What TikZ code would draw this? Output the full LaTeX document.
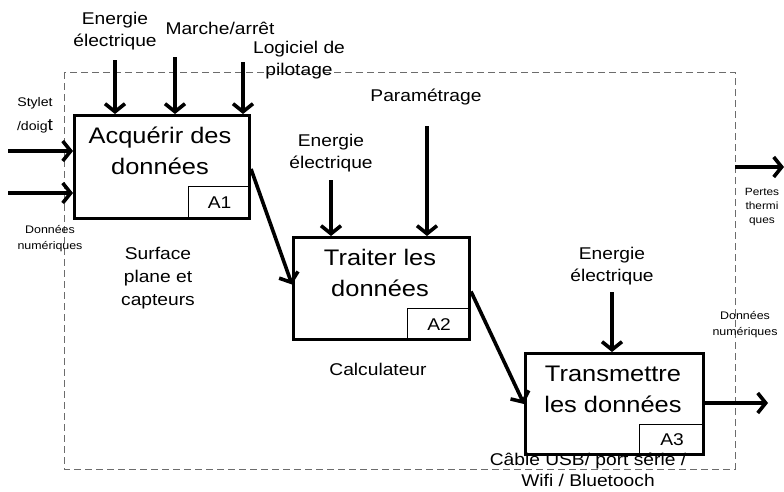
\documentclass[tikz,border=0pt]{standalone}
\usepackage{fontspec}
\setmainfont[FakeStretch=1.13]{Liberation Sans}
\usetikzlibrary{arrows.meta,calc}
\begin{document}
\begin{tikzpicture}[x=1pt,y=-1pt,
  box/.style={draw,line width=3pt,inner sep=0pt,anchor=north west},
  sub/.style={draw,line width=1pt,inner sep=0pt,anchor=south east,font=\fontsize{17}{20}\selectfont},
  flow/.style={line width=3.6pt,-{Straight Barb[length=8pt,width=20pt,line width=3.6pt]}},
  main/.style={align=center,inner sep=0pt,font=\fontsize{22.5}{31}\selectfont},
  lab/.style={align=center,inner sep=0pt,font=\fontsize{17}{22}\selectfont},
  tiny/.style={align=center,inner sep=0pt,font=\fontsize{11}{16}\selectfont}]
\useasboundingbox (0,0) rectangle (784,491);
% system boundary
\draw[gray!85!black,line width=1pt,dash pattern=on 7pt off 4pt] (64,72) rectangle (735,469);
% boxes
\node[box,minimum width=175pt,minimum height=103pt] (a1) at (73,114) {};
\node[box,minimum width=176pt,minimum height=102pt] (a2) at (292,236) {};
\node[box,minimum width=178pt,minimum height=101pt] (a3) at (524,352) {};
\node[sub,minimum width=62pt,minimum height=33pt] (s1) at (a1.south east) {A1};
\node[sub,minimum width=63pt,minimum height=32pt] (s2) at (a2.south east) {A2};
\node[sub,minimum width=65pt,minimum height=31pt] (s3) at (a3.south east) {A3};
\node[main] (t1) at (160,151) {Acquérir des\\données};
\node[main] (t2) at (380,273) {Traiter les\\données};
\node[main] (t3) at (613,389) {Transmettre\\les données};
% labels
\node[lab] (e1) at (115,31) {Energie\\électrique};
\node[lab] (ma) at (220,28) {Marche/arrêt};
\node[lab] (lo) at (299,60) {Logiciel de\\pilotage};
\node[align=center,inner sep=0pt,font=\fontsize{12.5}{24}\selectfont] (sd) at (35,115) {Stylet\\/doig{\fontsize{17}{20}\selectfont t}};
\node[tiny] (dn1) at (50,239) {Données\\numériques};
\node[lab,font=\fontsize{17}{23}\selectfont] (sp) at (158,278) {Surface\\plane et\\capteurs};
\node[lab] (pa) at (426,97) {Paramétrage};
\node[lab] (e2) at (331,153) {Energie\\électrique};
\node[lab] (ca) at (378,369) {Calculateur};
\node[lab] (e3) at (612,266) {Energie\\électrique};
\node[align=center,inner sep=0pt,font=\fontsize{10.5}{14}\selectfont] (pt) at (762,207) {Pertes\\thermi\\ques};
\node[tiny] (dn2) at (745,325) {Données\\numériques};
\node[lab,font=\fontsize{17}{21}\selectfont] (cb) at (588,470) {Câble USB/ port série /\\Wifi / Bluetooch};
% arrow start points
\coordinate (ce1) at (115,60);
\coordinate (cma) at (175,57);
\coordinate (clo) at (243,62);
\coordinate (ce2) at (331,180);
\coordinate (cpa) at (427,126);
\coordinate (ce3) at (612,292);
\coordinate (in1) at (8,151);
\coordinate (in2) at (8,193);
\coordinate (pts) at (735,167);
\coordinate (pte) at (784,167);
\coordinate (oute) at (768,403);
% arrows
\draw[flow] (ce1) -- (ce1 |- a1.north);
\draw[flow] (cma) -- (cma |- a1.north);
\draw[flow] (clo) -- (clo |- a1.north);
\draw[flow] (ce2) -- (ce2 |- a2.north);
\draw[flow] (cpa) -- (cpa |- a2.north);
\draw[flow] (ce3) -- (ce3 |- a3.north);
\draw[flow] (in1) -- (in1 -| a1.west);
\draw[flow] (in2) -- (in2 -| a1.west);
\draw[flow] ($(a1.east)+(0,2)$) -- ($(a2.west)+(0,-4)$);
\draw[flow] ($(a2.east)+(0,3)$) -- (a3.west);
\draw[flow] (pts) -- (pte);
\draw[flow] (oute -| a3.east) -- (oute);
\end{tikzpicture}
\end{document}
